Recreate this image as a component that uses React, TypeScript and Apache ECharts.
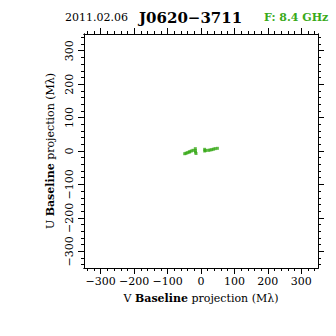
import React, { useEffect, useRef } from "react";
import * as echarts from "echarts";

// V (x) and U (y) baseline projections in Mλ
const vValues = [-48.8, -44.9, -41, -35.9, -33.8, -29, -24, -17, -17, -16.5, -15, 11, 11, 13.5, 22, 27, 32, 37, 42, 49];
const uValues = [-8.1, -6.9, -5, -3.6, -2, 0, 2, 7, 1.5, -3, -7.5, 5, 0, 1.5, 2, 3, 4, 5.4, 7, 8];

const majorTicks = [-300, -200, -100, 0, 100, 200, 300];
const minorTicks = [
  -340, -320, -300, -280, -260, -240, -220, -200, -180, -160, -140, -120, -100, -80, -60, -40, -20,
  0, 20, 40, 60, 80, 100, 120, 140, 160, 180, 200, 220, 240, 260, 280, 300, 320, 340,
];
const axisMin = -350;
const axisMax = 350;

const dateText = "2011.02.06";
const sourceText = "J0620\u22123711";
const freqText = "F: 8.4 GHz";
const xName = "V {b|Baseline} projection (M\u03bb)";
const yName = "U {b|Baseline} projection (M\u03bb)";

const GREEN = "#3aaa1a";
const FONT = "DejaVu Serif";

const fmt = (v: number) => (v < 0 ? "\u2212" + Math.abs(v) : String(v));

export default function App() {
  const ref = useRef<HTMLDivElement>(null);
  useEffect(() => {
    if (!ref.current) return;
    const chart = echarts.init(ref.current, undefined, { renderer: "svg" });
    const gridRect = { left: 84, top: 34, width: 234, height: 234 };
    const line = { show: true, lineStyle: { color: "#000", width: 1 } };
    const mkAxis = (
      grid: number,
      position: string,
      ticks: number[],
      len: number,
      extra: any = {}
    ) => ({
      type: "value",
      gridIndex: grid,
      position,
      min: axisMin,
      max: axisMax,
      axisLine: { ...line, onZero: false },
      axisTick: { show: true, customValues: ticks, length: len, inside: false, lineStyle: { color: "#000", width: 1 } },
      axisLabel: { show: false },
      splitLine: { show: false },
      ...extra,
    });
    const labelStyle = {
      show: true,
      customValues: majorTicks,
      formatter: fmt,
      color: "#000",
      fontFamily: FONT,
      fontSize: 11,
    };
    const nameStyle = {
      color: "#000",
      fontFamily: FONT,
      fontSize: 11,
      rich: { b: { fontFamily: FONT, fontSize: 11, fontWeight: "bold", color: "#000" } },
    };
    chart.setOption({
      animation: false,
      backgroundColor: "#fff",
      grid: [
        { ...gridRect, show: false },
        { ...gridRect, show: false },
      ],
      xAxis: [
        mkAxis(0, "bottom", majorTicks, 6, {
          axisLabel: { ...labelStyle, margin: 8 },
          name: xName,
          nameLocation: "middle",
          nameGap: 25,
          nameTextStyle: nameStyle,
        }),
        mkAxis(0, "top", majorTicks, 6),
        mkAxis(1, "bottom", minorTicks, 3),
        mkAxis(1, "top", minorTicks, 3),
      ],
      yAxis: [
        mkAxis(0, "left", majorTicks, 6, {
          axisLabel: { ...labelStyle, rotate: 90, margin: 9 },
          name: yName,
          nameLocation: "middle",
          nameGap: 24,
          nameTextStyle: nameStyle,
        }),
        mkAxis(0, "right", majorTicks, 6),
        mkAxis(1, "left", minorTicks, 3),
        mkAxis(1, "right", minorTicks, 3),
      ],
      graphic: [
        { type: "text", left: 65, top: 12, style: { text: dateText, fontFamily: FONT, fontSize: 11, fill: "#000" } },
        { type: "text", left: 139, top: 10, style: { text: sourceText, fontFamily: FONT, fontSize: 15, fontWeight: "bold", fill: "#000" } },
        { type: "text", left: 264, top: 12, style: { text: freqText, fontFamily: FONT, fontSize: 11, fontWeight: "bold", fill: GREEN } },
      ],
      series: [
        {
          type: "scatter",
          xAxisIndex: 0,
          yAxisIndex: 0,
          symbol: "rect",
          symbolSize: 3,
          itemStyle: { color: GREEN },
          data: vValues.map((v, i) => [v, uValues[i]]),
        },
      ],
    });
    return () => chart.dispose();
  }, []);
  return (
    <div
      ref={ref}
      style={{ position: "fixed", left: 0, top: 0, width: 336, height: 336, background: "#fff" }}
    />
  );
}
